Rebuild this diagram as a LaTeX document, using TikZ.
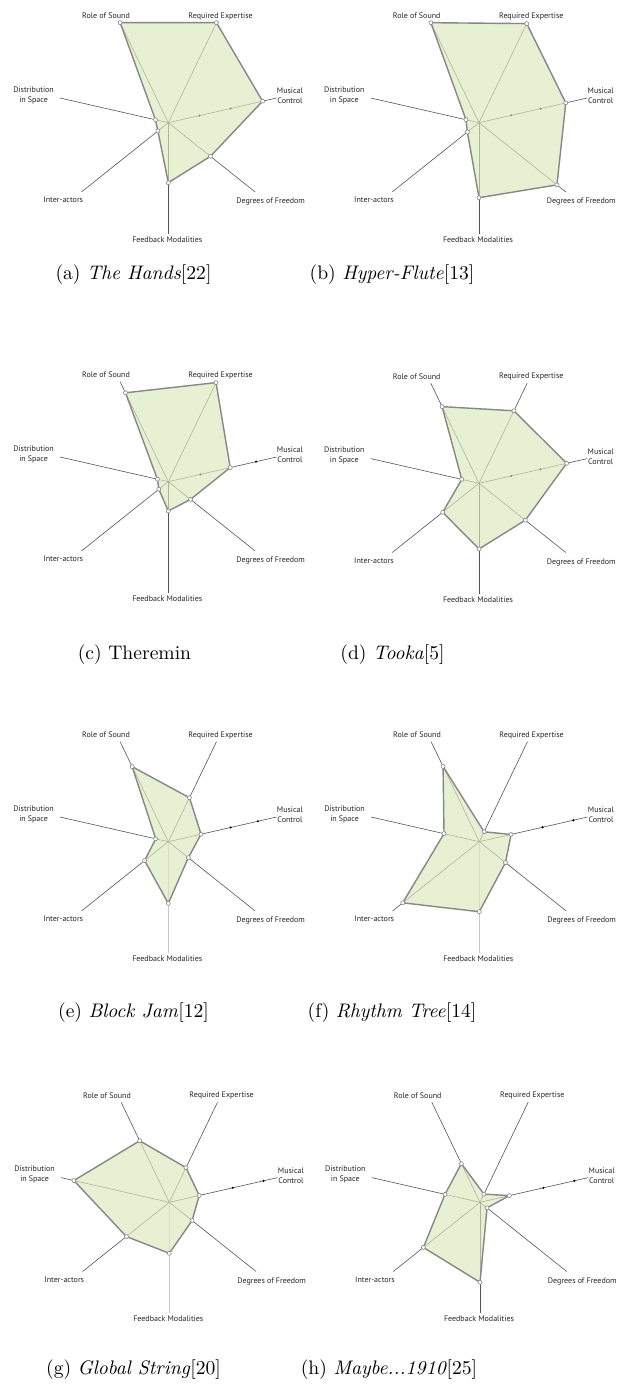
\documentclass[tikz,border=0pt]{standalone}
\usepackage{fontspec}
\newfontfamily\labelfont{PT Sans}
\definecolor{radarfill}{RGB}{221,232,190}
\definecolor{axiscol}{RGB}{85,85,85}
\definecolor{outlinecol}{RGB}{135,135,135}
\tikzset{
  axisline/.style={draw=axiscol, line width=0.6pt},
  fmlight/.style={draw=black!22, line width=1.6pt},
  polyshape/.style={fill=radarfill, fill opacity=0.65, draw=outlinecol, line width=1.4pt, line join=round},
  vtx/.style={draw=outlinecol, fill=white, line width=0.6pt},
  tickdot/.style={fill=black},
  axlabel/.style={font=\labelfont\fontsize{8}{10}\selectfont, align=center, inner sep=0pt, text=black!85},
  capnode/.style={scale=1.96, inner sep=0pt}
}
\def\setvals#1/#2/#3/#4/#5/#6/#7\relax{\def\rvA{#1}\def\rvB{#2}\def\rvC{#3}\def\rvD{#4}\def\rvE{#5}\def\rvF{#6}\def\rvG{#7}}
\newcommand\radar[5]{%
  \setvals#3\relax
  \begin{scope}[shift={#2}]
    \coordinate (#1-c) at (0,0);
    \coordinate (#1-e1) at (115.714:111);
    \coordinate (#1-e2) at (64.286:111);
    \coordinate (#1-e3) at (12.857:111);
    \coordinate (#1-e4) at (-38.571:111);
    \coordinate (#1-e5) at (-90:111);
    \coordinate (#1-e6) at (-141.429:111);
    \coordinate (#1-e7) at (167.143:111);
    \draw[axisline] (#1-c) -- (#1-e1);
    \draw[axisline] (#1-c) -- (#1-e2);
    \draw[axisline] (#1-c) -- (#1-e3);
    \draw[axisline] (#1-c) -- (#1-e4);
    \draw[axisline,#5] (#1-c) -- (#1-e5);
    \draw[axisline] (#1-c) -- (#1-e6);
    \draw[axisline] (#1-c) -- (#1-e7);
    \foreach \d in {#4} \fill[tickdot] (12.857:\d) circle (1.2pt);
    \path[polyshape] (115.714:\rvA) coordinate (#1-p1) -- (64.286:\rvB) coordinate (#1-p2)
      -- (12.857:\rvC) coordinate (#1-p3) -- (-38.571:\rvD) coordinate (#1-p4)
      -- (-90:\rvE) coordinate (#1-p5) -- (-141.429:\rvF) coordinate (#1-p6)
      -- (167.143:\rvG) coordinate (#1-p7) -- cycle;
    \foreach \k in {1,...,7} \draw[vtx] (#1-p\k) circle (2pt);
    \node[axlabel] (#1-ros) at (-62.3,106.7) {Role of Sound};
    \node[axlabel] (#1-re) at (52.3,106.7) {Required Expertise};
    \node[axlabel] (#1-mc) at (121.7,26.7) {Musical\\Control};
    \node[axlabel] (#1-dis) at (-134.7,27.7) {Distribution\\in Space};
    \node[axlabel] (#1-ia) at (-105,-77.3) {Inter-actors};
    \node[axlabel] (#1-fm) at (-1,-116.7) {Feedback Modalities};
    \node[axlabel] (#1-dof) at (102.3,-79) {Degrees of Freedom};
  \end{scope}}
\begin{document}
\begin{tikzpicture}[x=1pt,y=1pt]
\useasboundingbox (0,0) rectangle (627,-1392);
\fill[white] (0,0) rectangle (627,-1392);
\radar{a}{(168.3,-122.7)}{111/111/96.7/53.9/60/13.3/13.2}{32,64}{}
\radar{b}{(479,-122.7)}{111/110/89/99.7/75/14.9/13.4}{33,63}{}
\radar{c}{(168.3,-481.7)}{98.7/110/63.5/28.4/29.3/12.1/11.2}{33,90}{}
\radar{d}{(479,-483.3)}{85.1/80.5/89.9/59.2/65.7/46.5/17.7}{33,63}{}
\radar{e}{(168.3,-841.7)}{83.3/48.8/33.6/25.6/61.7/30.3/12.9}{64,92}{fmlight}
\radar{f}{(479.3,-841.7)}{83.5/11/32.6/33.5/70/98/36.2}{65,96.5}{fmlight}
\radar{g}{(169.3,-1202.3)}{68.3/38.5/30.7/29.2/51/54.9/97.9}{65,96.6}{fmlight}
\radar{h}{(480,-1202.3)}{42.9/9.1/30.1/9/80/72.4/35.9}{65,96.7}{}
\node[capnode] (capa) at (133.5,-275) {(a) \textit{The Hands}[22]};
\node[capnode] (capb) at (392,-275) {(b) \textit{Hyper-Flute}[13]};
\node[capnode] (capc) at (134.5,-655) {(c) Theremin};
\node[capnode] (capd) at (392.5,-655) {(d) \textit{Tooka}[5]};
\node[capnode] (cape) at (133.5,-1013) {(e) \textit{Block Jam}[12]};
\node[capnode] (capf) at (392,-1013) {(f) \textit{Rhythm Tree}[14]};
\node[capnode] (capg) at (133.5,-1370) {(g) \textit{Global String}[20]};
\node[capnode] (caph) at (389,-1370) {(h) \textit{Maybe...1910}[25]};
\end{tikzpicture}
\end{document}
